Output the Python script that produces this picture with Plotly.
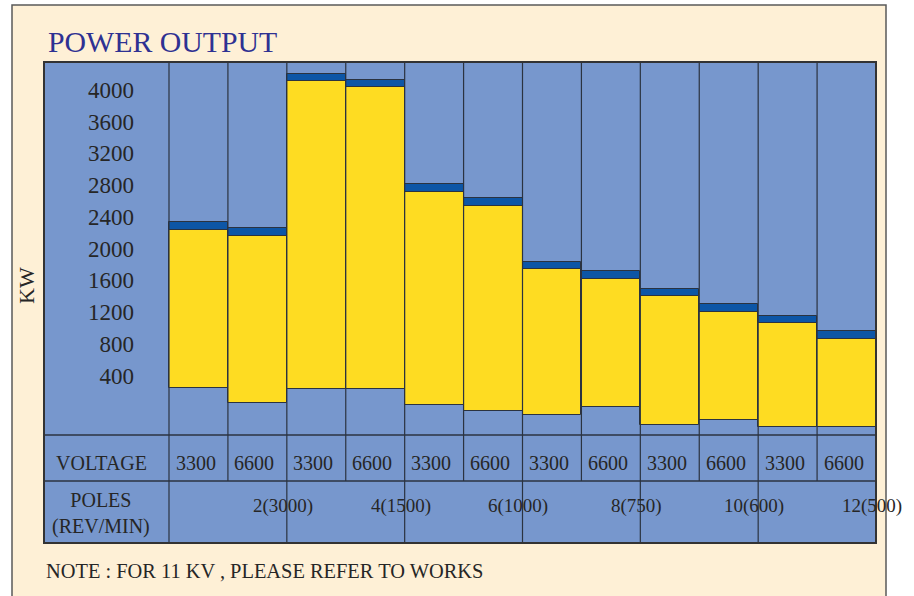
import plotly.graph_objects as go

# ---------------- data ----------------
voltages = ["3300", "6600"] * 6
poles = ["2(3000)", "4(1500)", "6(1000)", "8(750)", "10(600)", "12(500)"]
kw_low = [240, 60, 230, 230, 25, -45, -95, 10, -225, -160, -250, -250]
kw_high = [2235, 2160, 4110, 4030, 2715, 2540, 1740, 1620, 1400, 1205, 1060, 855]
kw_cap = [2330, 2255, 4200, 4125, 2815, 2640, 1835, 1715, 1495, 1300, 1150, 955]
y_ticks = [400, 800, 1200, 1600, 2000, 2400, 2800, 3200, 3600, 4000]

# ---------------- styling ----------------
W, H = 914, 596
BEIGE = "#FEF0D6"
BLUE = "#7797CD"
YELLOW = "#FEDC22"
CAP = "#0D56A6"
EDGE = "#2B3340"
TXT = "#262626"
TITLE = "#2E3192"
FONT = "Liberation Serif, Times New Roman, serif"

def px(x):
    return x / W

def py(y):
    return 1 - y / H

BOX_L, BOX_R, BOX_T = 44, 876, 62
COL0_R, CHART_B, VOLT_B, BOX_B = 169, 435, 481, 543
n = len(voltages)
col_w = (BOX_R - COL0_R) / n
label_units = (COL0_R - BOX_L) / col_w

xs = [i + 0.5 for i in range(n)]

fig = go.Figure()
fig.add_trace(go.Bar(
    x=xs, y=[h - l for h, l in zip(kw_high, kw_low)], base=kw_low, width=1,
    marker=dict(color=YELLOW, line=dict(color=EDGE, width=1)),
    hoverinfo="skip", showlegend=False))
fig.add_trace(go.Bar(
    x=xs, y=[c - h for c, h in zip(kw_cap, kw_high)], base=kw_high, width=1,
    marker=dict(color=CAP, line=dict(color=EDGE, width=1)),
    hoverinfo="skip", showlegend=False))

shapes = []
# beige panel
shapes.append(dict(type="rect", xref="paper", yref="paper", x0=px(12), x1=px(886),
                   y0=py(610), y1=py(5), fillcolor=BEIGE,
                   line=dict(color="#5a5a5a", width=1.5), layer="below"))
# blue box (chart + table)
shapes.append(dict(type="rect", xref="paper", yref="paper", x0=px(BOX_L), x1=px(BOX_R),
                   y0=py(BOX_B), y1=py(BOX_T), fillcolor=BLUE, line=dict(width=0),
                   layer="below"))
# horizontal table lines
for yy in (CHART_B, VOLT_B):
    shapes.append(dict(type="line", xref="paper", yref="paper", x0=px(BOX_L), x1=px(BOX_R),
                       y0=py(yy), y1=py(yy), line=dict(color=EDGE, width=1.5), layer="above"))
# vertical column lines
for b in range(0, n):
    bottom = BOX_B if b % 2 == 0 else VOLT_B
    shapes.append(dict(type="line", xref="x", yref="paper", x0=b, x1=b,
                       y0=py(bottom), y1=py(BOX_T), line=dict(color=EDGE, width=1.2),
                       layer="above"))
# outer box
shapes.append(dict(type="rect", xref="paper", yref="paper", x0=px(BOX_L), x1=px(BOX_R),
                   y0=py(BOX_B), y1=py(BOX_T), line=dict(color="#333333", width=2),
                   layer="above"))

ann = []
ann.append(dict(text="POWER OUTPUT", xref="paper", yref="paper", x=px(46), y=py(41),
                xanchor="left", yanchor="middle", showarrow=False,
                font=dict(family=FONT, size=29.8, color=TITLE)))
ann.append(dict(text="KW", xref="paper", yref="paper", x=px(27), y=py(286),
                xanchor="center", yanchor="middle", showarrow=False, textangle=-90,
                font=dict(family=FONT, size=22, color=TXT)))
ann.append(dict(text="VOLTAGE", xref="paper", yref="paper", x=px(101), y=py(463),
                xanchor="center", yanchor="middle", showarrow=False,
                font=dict(family=FONT, size=20, color=TXT)))
ann.append(dict(text="POLES<br>(REV/MIN)", xref="paper", yref="paper", x=px(101), y=py(513),
                xanchor="center", yanchor="middle", showarrow=False,
                font=dict(family=FONT, size=20, color=TXT)))
for i, v in enumerate(voltages):
    ann.append(dict(text=v, xref="x", yref="paper", x=xs[i] - 0.05, y=py(463),
                    xanchor="center", yanchor="middle", showarrow=False,
                    font=dict(family=FONT, size=20, color=TXT)))
for g, p in enumerate(poles):
    ann.append(dict(text=p, xref="x", yref="paper", x=2 * g + 1.93, y=py(506),
                    xanchor="center", yanchor="middle", showarrow=False,
                    font=dict(family=FONT, size=19, color=TXT)))
ann.append(dict(text="NOTE : FOR 11 KV , PLEASE REFER TO WORKS", xref="paper", yref="paper",
                x=px(44), y=py(571), xanchor="left", yanchor="middle", showarrow=False,
                font=dict(family=FONT, size=20.4, color=TXT)))

fig.update_layout(
    width=W, height=H, margin=dict(l=0, r=0, t=0, b=0),
    paper_bgcolor="white", plot_bgcolor="rgba(0,0,0,0)",
    barmode="overlay", bargap=0,
    shapes=shapes, annotations=ann, showlegend=False,
    xaxis=dict(domain=[px(BOX_L), px(BOX_R)], range=[-label_units, n], visible=False,
               fixedrange=True),
    yaxis=dict(domain=[py(CHART_B), py(BOX_T)], range=[-349, 4349], anchor="free",
               position=px(134), tickvals=y_ticks, ticktext=[str(t) for t in y_ticks],
               showgrid=False, zeroline=False, showline=False, ticks="",
               tickfont=dict(family=FONT, size=23, color=TXT), fixedrange=True),
)

fig.write_html("out.html", config={"displayModeBar": False},
               post_script="document.body.style.margin='0';document.body.style.overflow='hidden';")
